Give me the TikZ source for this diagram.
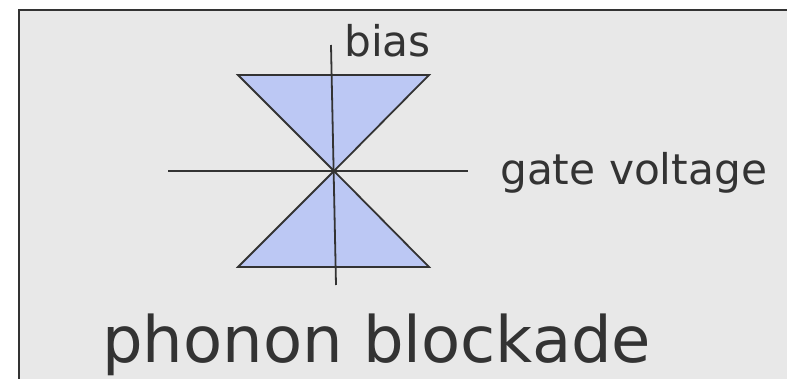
\documentclass[tikz,border=0pt]{standalone}
\usepackage{fontspec}
\setmainfont{DejaVu Sans}
\definecolor{bgc}{HTML}{E8E8E8}
\definecolor{inkc}{HTML}{333333}
\definecolor{conec}{HTML}{BCC8F4}
\begin{document}
\begin{tikzpicture}[x=1pt,y=-1pt,
  axis/.style={draw=inkc, line width=1.8pt},
  cone/.style={fill=conec, draw=inkc, line width=1.8pt, line join=miter},
  lbl/.style={inner sep=0pt, anchor=base west, text=inkc, font=\fontsize{42.3}{50}\selectfont},
  ttl/.style={inner sep=0pt, anchor=base west, text=inkc, font=\fontsize{64}{76}\selectfont}]
\useasboundingbox (0,0) rectangle (787,379);
\fill[white] (0,0) rectangle (787,379);
\fill[bgc] (19,10) rectangle (787,379);
\draw[draw=inkc, line width=2.4pt] (19,379) -- (19,10) -- (787,10);
% cones
\coordinate (c) at (334,171);
\coordinate (tl) at (238,75);
\coordinate (tr) at (429,75);
\coordinate (bl) at (238,267);
\coordinate (br) at (429,267);
\path[cone] (tl) -- (tr) -- (c) -- cycle;
\path[cone] (bl) -- (br) -- (c) -- cycle;
% axes
\coordinate (vt) at (331,45);
\coordinate (vb) at (336,285);
\coordinate (hl) at (168,171);
\coordinate (hr) at (468,171);
\draw[axis] (vt) -- (vb);
\draw[axis] (hl) -- (hr);
% labels
\node[lbl] (bias) at (344,57) {bias};
\node[lbl] (gate) at (500,185) {gate voltage};
\node[ttl] (title) at (102,362) {phonon blockade};
\end{tikzpicture}
\end{document}
